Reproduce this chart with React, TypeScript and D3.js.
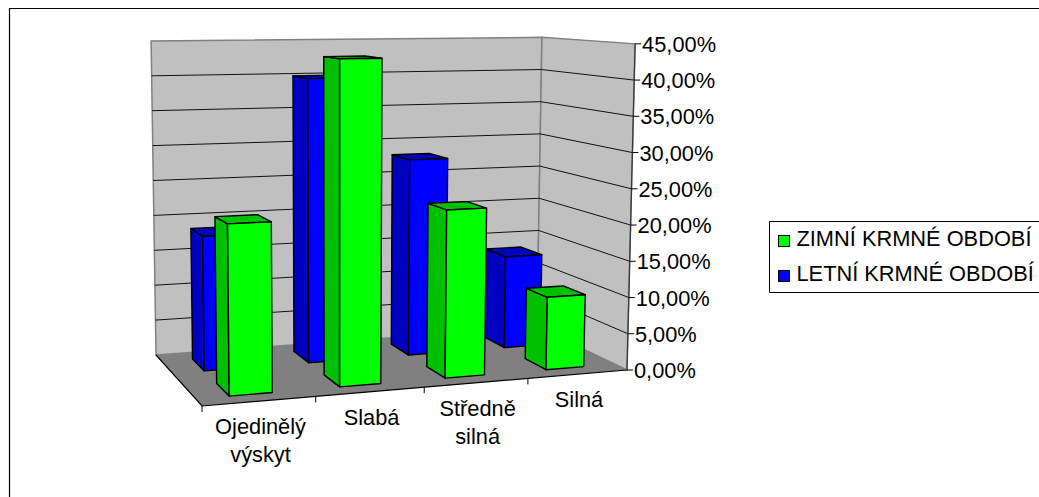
import React from "react";
import * as d3 from "d3";

const categories: string[][] = [["Ojedinělý", "výskyt"], ["Slabá"], ["Středně", "silná"], ["Silná"]];
const winterValues = [22.2, 43.3, 22.7, 10];
const summerValues = [18.5, 39.9, 28, 13.3];
const tickValues = [0, 5, 10, 15, 20, 25, 30, 35, 40, 45];
const seriesNames = ["ZIMNÍ KRMNÉ OBDOBÍ", "LETNÍ KRMNÉ OBDOBÍ"];

type Pt = [number, number];

// Floor corners as seen by the camera: front-left, front-right, back-right, back-left.
const floorQuad: Pt[] = [[202, 406], [627, 370], [537, 327], [156, 355]];
// Pixel height of the full value axis at the front-left corner, and the point verticals converge to.
const AXIS_HEIGHT = 357.5;
const VERTICAL_VANISH: Pt = [338, 12000];

// Projective map from the unit square onto a quad; also returns the perspective divisor.
function homography(q: Pt[]) {
  const [[x0, y0], [x1, y1], [x2, y2], [x3, y3]] = q;
  const dx1 = x1 - x2, dx2 = x3 - x2, sx = x0 - x1 + x2 - x3;
  const dy1 = y1 - y2, dy2 = y3 - y2, sy = y0 - y1 + y2 - y3;
  const det = dx1 * dy2 - dx2 * dy1;
  const g = (sx * dy2 - dx2 * sy) / det;
  const h = (dx1 * sy - sx * dy1) / det;
  const a = x1 - x0 + g * x1, b = x3 - x0 + h * x3, c = x0;
  const d = y1 - y0 + g * y1, e = y3 - y0 + h * y3, f = y0;
  return (u: number, v: number) => {
    const w = g * u + h * v + 1;
    return { x: (a * u + b * v + c) / w, y: (d * u + e * v + f) / w, w };
  };
}

const floorMap = homography(floorQuad);
const xScale = d3.scaleLinear().domain([0, categories.length]).range([0, 1]);
const yScale = d3.scaleLinear().domain([0, 45]).range([0, AXIS_HEIGHT]);

// Category position, depth (0 front, 1 back) and percentage to screen coordinates.
function project(cat: number, depth: number, value: number): Pt {
  const p = floorMap(xScale(cat), depth);
  const rise = yScale(value) / p.w;
  const lean = (p.x - VERTICAL_VANISH[0]) / (VERTICAL_VANISH[1] - p.y);
  return [p.x + lean * rise, p.y - rise];
}

const poly = (pts: Pt[]) => pts.map((p) => p.map((n) => n.toFixed(2)).join(",")).join(" ");

const BAR_INSET = 0.295;
const BAR_WIDTH = 0.385;
const winterDepth: Pt = [0.125, 0.36];
const summerDepth: Pt = [0.61, 0.86];

function Bar({ cat, value, depth, front, side, top }: { cat: number; value: number; depth: Pt; front: string; side: string; top: string }) {
  const l = cat + BAR_INSET, r = l + BAR_WIDTH;
  const [d0, d1] = depth;
  const stroke = { stroke: "#000", strokeWidth: 1.4, strokeLinejoin: "round" as const };
  return (
    <g>
      <polygon points={poly([project(l, d1, 0), project(l, d0, 0), project(l, d0, value), project(l, d1, value)])} fill={side} {...stroke} />
      <polygon points={poly([project(l, d0, value), project(r, d0, value), project(r, d1, value), project(l, d1, value)])} fill={top} {...stroke} />
      <polygon points={poly([project(l, d0, 0), project(r, d0, 0), project(r, d0, value), project(l, d0, value)])} fill={front} {...stroke} />
    </g>
  );
}

const font = "'Liberation Sans', Arial, sans-serif";
const FONT_SIZE = 21.8;

export default function App() {
  return (
    <svg width={1039} height={497} style={{ position: "absolute", left: 0, top: 0, background: "#fff" }}>
      <path d="M9.5 497V8.5H1039" fill="none" stroke="#000" strokeWidth={1.2} />

      {/* back wall, side wall, floor */}
      <polygon points={poly([project(0, 1, 0), project(4, 1, 0), project(4, 1, 45), project(0, 1, 45)])} fill="#c0c0c0" stroke="#808080" strokeWidth={1.5} />
      <polygon points={poly([project(4, 1, 0), project(4, 0, 0), project(4, 0, 45), project(4, 1, 45)])} fill="#c0c0c0" stroke="#808080" strokeWidth={1.5} />
      <polygon points={poly([project(0, 0, 0), project(4, 0, 0), project(4, 1, 0), project(0, 1, 0)])} fill="#808080" />

      {tickValues.filter((v) => v > 0 && v < 45).map((v) => (
        <polyline key={v} points={poly([project(0, 1, v), project(4, 1, v), project(4, 0, v)])} fill="none" stroke="#111" strokeWidth={1} />
      ))}

      {summerValues.map((v, i) => (
        <Bar key={i} cat={i} value={v} depth={summerDepth} front="#0000ff" side="#0000c0" top="#0000c0" />
      ))}
      {winterValues.map((v, i) => (
        <Bar key={i} cat={i} value={v} depth={winterDepth} front="#00ff00" side="#00c000" top="#00c000" />
      ))}

      {/* floor edges and axes */}
      <polyline points={poly([project(0, 1, 0), project(0, 0, 0), project(4, 0, 0)])} fill="none" stroke="#000" strokeWidth={1.2} />
      <polyline points={poly([project(4, 0, 0), project(4, 0, 45)])} fill="none" stroke="#333" strokeWidth={1.2} />

      {d3.range(0, 4).map((i) => {
        const p = project(i, 0, 0);
        return <line key={i} x1={p[0]} y1={p[1]} x2={p[0]} y2={p[1] + 6} stroke="#000" strokeWidth={1} />;
      })}

      {tickValues.map((v) => {
        const p = project(4, 0, v);
        return (
          <g key={v}>
            <line x1={p[0]} y1={p[1]} x2={p[0] + 6} y2={p[1]} stroke="#000" strokeWidth={1} />
            <text x={p[0] + 7} y={p[1] + 8} fontFamily={font} fontSize={FONT_SIZE} fill="#000">{`${v.toFixed(2).replace(".", ",")}%`}</text>
          </g>
        );
      })}

      {categories.map((lines, i) => {
        const mid = project(i + 0.5, 0, 0);
        return (
          <text key={i} y={mid[1] + 33} textAnchor="middle" fontFamily={font} fontSize={FONT_SIZE} fill="#000">
            {lines.map((t, k) => <tspan key={k} x={mid[0] + 1} dy={k === 0 ? 0 : 28}>{t}</tspan>)}
          </text>
        );
      })}

      {/* legend */}
      <path d="M1039 221.5H769.5V292.5H1039" fill="#fff" stroke="#000" strokeWidth={1} />
      {seriesNames.map((name, i) => (
        <g key={name}>
          <rect x={778.5} y={235.5 + i * 35} width={11} height={11} fill={i === 0 ? "#00ff00" : "#0000ff"} stroke="#000" />
          <text x={796.5} y={246 + i * 35} fontFamily={font} fontSize={FONT_SIZE} fill="#000">{name}</text>
        </g>
      ))}
    </svg>
  );
}
